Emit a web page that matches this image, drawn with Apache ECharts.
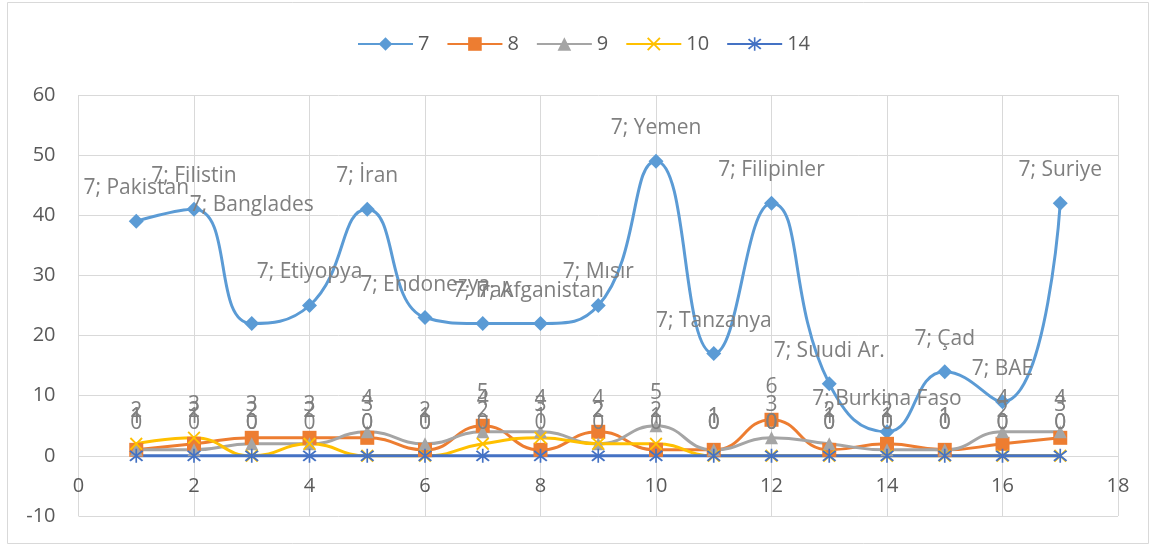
<!DOCTYPE html>
<html>
<head>
<meta charset="utf-8">
<script src="https://cdn.jsdelivr.net/npm/echarts@6/dist/echarts.min.js"></script>
<style>
  html, body { margin: 0; padding: 0; background: #ffffff; }
  #chart { width: 1154px; height: 548px; }
</style>
</head>
<body>
<div id="chart"></div>
<script>
// Point index along the horizontal axis
const xValues = [1, 2, 3, 4, 5, 6, 7, 8, 9, 10, 11, 12, 13, 14, 15, 16, 17];

// Country names shown on series "7"
const countries = ['Pakistan', 'Filistin', 'Banglades', 'Etiyopya', 'İran', 'Endonezya', 'Irak',
  'Afganistan', 'Mısır', 'Yemen', 'Tanzanya', 'Filipinler', 'Suudi Ar.', 'Burkina Faso',
  'Çad', 'BAE', 'Suriye'];

// Series values
const series7 = [39, 41, 22, 25, 41, 23, 22, 22, 25, 49, 17, 42, 12, 4, 14, 9, 42];
const series8 = [1, 2, 3, 3, 3, 1, 5, 1, 4, 1, 1, 6, 1, 2, 1, 2, 3];
const series9 = [1, 1, 2, 2, 4, 2, 4, 4, 2, 5, 1, 3, 2, 1, 1, 4, 4];
const series10 = [2, 3, 0, 2, 0, 0, 2, 3, 2, 2, 0, 0, 0, 0, 0, 0, 0];
const series14 = [0, 0, 0, 0, 0, 0, 0, 0, 0, 0, 0, 0, 0, 0, 0, 0, 0];

const seriesNames = ['7', '8', '9', '10', '14'];

// Axis ticks
const xTicks = { min: 0, max: 18, interval: 2 };
const yTicks = { min: -10, max: 60, interval: 10 };

const FONT = '"Open Sans", "Noto Sans", sans-serif';
const LABEL_COLOR = '#7f7f7f';
const TICK_COLOR = '#595959';
const GRID_COLOR = '#d9d9d9';

// Plot box
const GRID = { left: 78.5, right: 36, top: 95, bottom: 32 };
const PLOT_HEIGHT = 548 - GRID.top - GRID.bottom;
// the category labels sit on the y = 0 line, so lift the axis from the bottom edge
const zeroLift = PLOT_HEIGHT * (0 - yTicks.min) / (yTicks.max - yTicks.min);

// Marker shapes: an "x" cross and a six-armed asterisk
const crossPath = 'path://M0,1 L1,0 L5,4 L9,0 L10,1 L6,5 L10,9 L9,10 L5,6 L1,10 L0,9 L4,5 Z';
const starPath = 'path://M0,1.6 L1,0.6 L5,4.2 L9,0.6 L10,1.6 L6,5 L10,8.4 L9,9.4 L5,5.8 L1,9.4 L0,8.4 L4,5 Z M4.4,-0.5 L5.6,-0.5 L5.6,10.5 L4.4,10.5 Z';

function pairs(values) {
  return xValues.map((x, i) => [x, values[i]]);
}

const labelBase = {
  show: true,
  position: 'inside',
  offset: [0, -33],
  color: LABEL_COLOR,
  fontFamily: FONT,
  fontSize: 21
};

function makeSeries(name, values, color, symbol, symbolSize, labelFormatter) {
  return {
    name: name,
    type: 'line',
    smooth: 0.5,
    data: pairs(values),
    symbol: symbol,
    symbolSize: symbolSize,
    showAllSymbol: true,
    lineStyle: { color: color, width: 3 },
    itemStyle: { color: color },
    label: Object.assign({}, labelBase, { formatter: labelFormatter }),
    emphasis: { disabled: true },
    animation: false
  };
}

const s7 = makeSeries('7', series7, '#5B9BD5', 'diamond', 15,
  p => '7; ' + countries[p.dataIndex]);
// the Bangladesh label sits higher, clear of the curve
s7.data = s7.data.map((d, i) => {
  if (countries[i] === 'Banglades') {
    return { value: d, label: { offset: [0, -119] } };
  }
  return d;
});

const valueLabel = p => String(p.value[1]);

const option = {
  animation: false,
  backgroundColor: '#ffffff',
  textStyle: { fontFamily: FONT },
  legend: {
    top: 29,
    left: 352,
    data: seriesNames,
    itemWidth: 55,
    itemHeight: 17,
    itemGap: 17,
    textStyle: { color: TICK_COLOR, fontSize: 20, fontFamily: FONT }
  },
  grid: {
    left: GRID.left, right: GRID.right, top: GRID.top, bottom: GRID.bottom,
    containLabel: false,
    outerBoundsMode: 'none'
  },
  xAxis: {
    type: 'value',
    position: 'bottom',
    offset: -zeroLift,
    min: xTicks.min,
    max: xTicks.max,
    interval: xTicks.interval,
    axisLine: { show: false, onZero: false },
    axisTick: { show: false },
    axisLabel: { color: TICK_COLOR, fontSize: 20, fontFamily: FONT, margin: 20 },
    splitLine: { show: true, lineStyle: { color: GRID_COLOR, width: 1 } }
  },
  yAxis: {
    type: 'value',
    min: yTicks.min,
    max: yTicks.max,
    interval: yTicks.interval,
    axisLine: { show: false },
    axisTick: { show: false },
    axisLabel: { color: TICK_COLOR, fontSize: 20, fontFamily: FONT, margin: 23 },
    splitLine: { show: true, lineStyle: { color: GRID_COLOR, width: 1 } }
  },
  graphic: [{
    type: 'rect',
    shape: { x: 7.5, y: 2.5, width: 1141, height: 541 },
    style: { fill: 'none', stroke: GRID_COLOR, lineWidth: 1 },
    silent: true,
    z: -10
  }],
  series: [
    s7,
    makeSeries('8', series8, '#ED7D31', 'rect', 14, valueLabel),
    makeSeries('9', series9, '#A5A5A5', 'triangle', 13, valueLabel),
    makeSeries('10', series10, '#FFC000', crossPath, 13, valueLabel),
    makeSeries('14', series14, '#4472C4', starPath, 14, valueLabel)
  ]
};

const chart = echarts.init(document.getElementById('chart'), null, { renderer: 'canvas' });
chart.setOption(option);
</script>
</body>
</html>
